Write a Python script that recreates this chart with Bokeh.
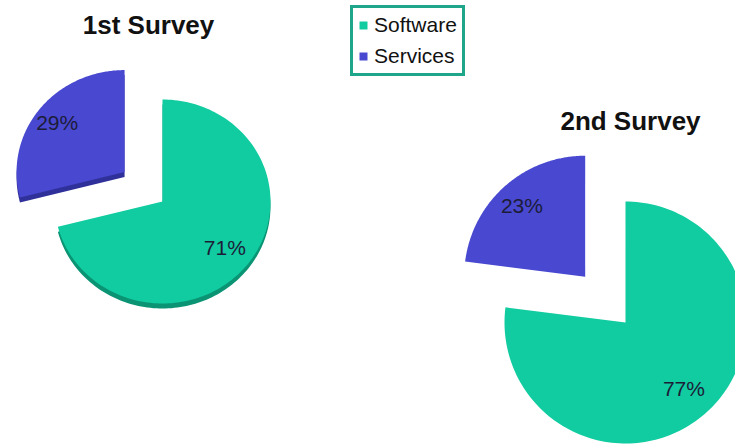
import numpy as np
from bokeh.plotting import figure
from bokeh.models import Range1d, Legend, LegendItem, ColumnDataSource
from bokeh.embed import file_html
from bokeh.resources import INLINE
from bokeh.core.properties import value

# ---- data ----
surveys = ["1st Survey", "2nd Survey"]
categories = ["Software", "Services"]
software_pct = [71, 77]
services_pct = [29, 23]

colors = ["#10cca0", "#4848d0"]
edge_colors = ["#0a9474", "#30309a"]
label_color = "#1c1c38"

# ---- layout (screen-like data coordinates) ----
W, H = 735, 444
pies = [
    dict(cx=162, cy=243, rx=108, ry=102, explode=48, depth=5, title=(148, 420)),
    dict(cx=625, cy=122, rx=121, ry=121, explode=61, depth=0, title=(630, 324)),
]
label_frac = {"Software": 0.73, "Services": 0.79}

p = figure(width=W, height=H, x_range=Range1d(0, 735), y_range=Range1d(0, 444),
           output_backend="svg", toolbar_location=None, min_border=0,
           x_axis_type=None, y_axis_type=None)
p.grid.visible = False
p.outline_line_color = None
p.background_fill_color = "white"


def wedge_poly(cx, cy, rx, ry, a0, a1, n=160):
    t = np.radians(np.linspace(a0, a1, n))
    xs = [cx] + list(cx + rx * np.cos(t))
    ys = [cy] + list(cy + ry * np.sin(t))
    return xs, ys


top = {c: dict(xs=[], ys=[]) for c in categories}
side = {c: dict(xs=[], ys=[]) for c in categories}
lab_x, lab_y, lab_t = [], [], []
tit_x, tit_y = [], []

for i, pie in enumerate(pies):
    vals = [software_pct[i], services_pct[i]]
    # Software clockwise from 12 o'clock, Services counter-clockwise from 12 o'clock
    spans = [(90 - 3.6 * vals[0], 90), (90, 90 + 3.6 * vals[1])]
    for k, cat in enumerate(categories):
        a0, a1 = spans[k]
        mid = np.radians((a0 + a1) / 2)
        d = pie["explode"] if cat == "Services" else 0
        cx = pie["cx"] + d * np.cos(mid)
        cy = pie["cy"] + d * np.sin(mid)
        xs, ys = wedge_poly(cx, cy, pie["rx"], pie["ry"], a0, a1)
        top[cat]["xs"].append(xs)
        top[cat]["ys"].append(ys)
        if pie["depth"]:
            side[cat]["xs"].append(xs)
            side[cat]["ys"].append([y - pie["depth"] for y in ys])
        f = label_frac[cat]
        lab_x.append(cx + f * pie["rx"] * np.cos(mid))
        lab_y.append(cy + f * pie["ry"] * np.sin(mid))
        lab_t.append(f"{vals[k]}%")
    tit_x.append(pie["title"][0])
    tit_y.append(pie["title"][1])

renderers = {}
for k, cat in enumerate(categories):
    if side[cat]["xs"]:
        p.patches("xs", "ys", source=ColumnDataSource(side[cat]),
                  fill_color=edge_colors[k], line_color=None)
for k, cat in enumerate(categories):
    renderers[cat] = p.patches("xs", "ys", source=ColumnDataSource(top[cat]),
                               fill_color=colors[k], line_color=None)

p.text(x=lab_x, y=lab_y, text=lab_t, text_align="center", text_baseline="middle",
       text_font=value("Liberation Sans"), text_font_size="21px", text_color=label_color)

p.text(x=tit_x, y=tit_y, text=surveys, text_align="center", text_baseline="middle",
       text_font=value("Liberation Sans"), text_font_size="26px",
       text_font_style="bold", text_color="#111111")

legend = Legend(items=[LegendItem(label=c, renderers=[renderers[c]]) for c in categories],
                location=(350, 368), orientation="vertical",
                label_text_font="Liberation Sans", label_text_font_size="21px",
                label_text_color="#111111",
                glyph_width=10, glyph_height=10, label_standoff=6,
                label_height=24, spacing=7, padding=5,
                border_line_color="#1fa58a", border_line_width=3, border_line_alpha=1.0,
                background_fill_color="white", background_fill_alpha=1.0)
p.add_layout(legend)

open("out.html", "w").write(file_html(p, INLINE))
